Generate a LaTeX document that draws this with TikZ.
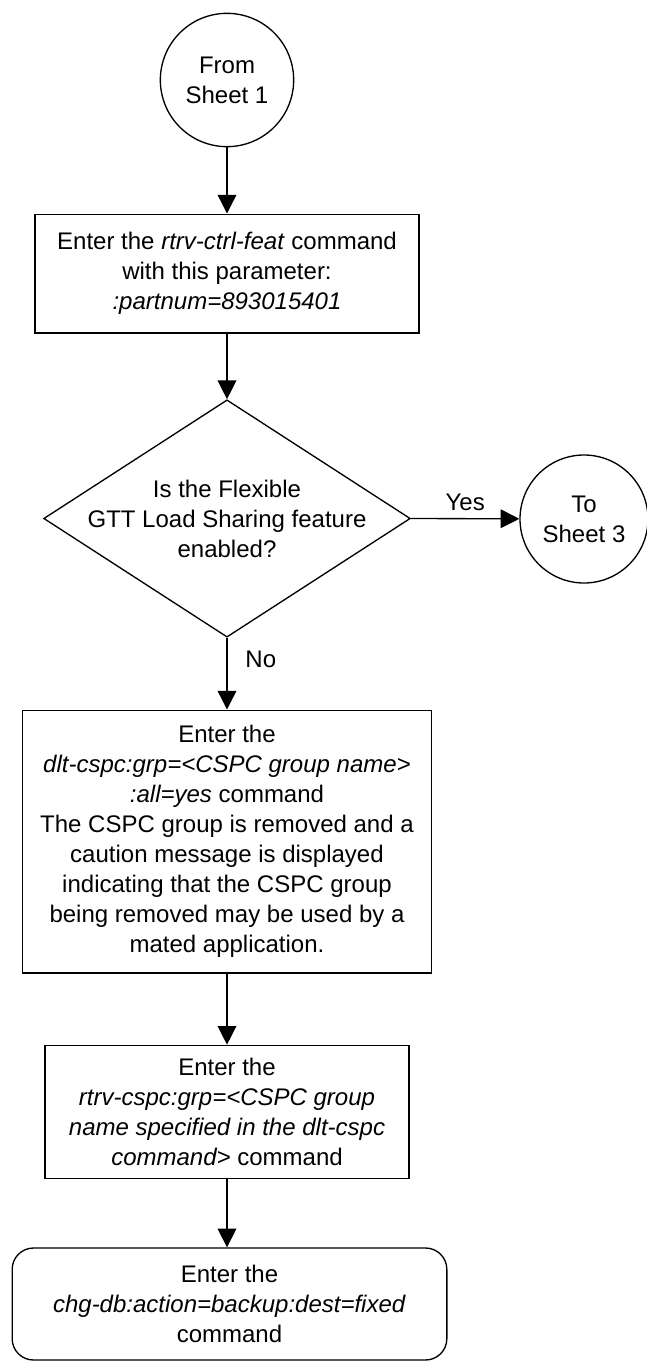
\documentclass[tikz,border=0pt]{standalone}
\usepackage{fontspec}
\setmainfont{Liberation Sans}
\usetikzlibrary{arrows.meta,shapes.geometric}
\begin{document}
\begin{tikzpicture}[x=0.75pt,y=-0.75pt,line width=1pt,
  every node/.style={font=\fontsize{18}{22.5}\selectfont,align=center},
  sheet/.style={draw,circle,minimum size=100pt,inner sep=0pt},
  cmdbox/.style={draw,rectangle,inner sep=0pt},
  decision/.style={draw,diamond,minimum width=275pt,minimum height=178pt,inner sep=0pt},
  flow/.style={-{Triangle[length=14pt,width=14pt]}}]
\useasboundingbox (0,0) rectangle (646,1363);

\node[sheet] (from) at (227,80) {From\\Sheet 1};

\node[cmdbox,minimum width=288pt,minimum height=89pt] (feat) at (227,273.5)
  {Enter the \textit{rtrv-ctrl-feat} command\\with this parameter:\\\textit{:partnum=893015401}};

\node[decision] (q) at (227,518.5) {};
\node (qtext) at (q) {Is the Flexible\\GTT Load Sharing feature\\enabled?};

\node[sheet,minimum size=96pt] (to) at (584,519) {To\\Sheet 3};

\node[cmdbox,minimum width=307pt,minimum height=197pt] (dlt) at (227,841.5)
  {Enter the\\\textit{dlt-cspc:grp=<CSPC group name>}\\\textit{:all=yes} command\\
   The CSPC group is removed and a\\caution message is displayed\\
   indicating that the CSPC group\\being removed may be used by a\\mated application.};

\node[cmdbox,minimum width=273pt,minimum height=100pt] (rtrv) at (227,1112)
  {Enter the\\\textit{rtrv-cspc:grp=<CSPC group}\\\textit{name specified in the dlt-cspc}\\\textit{command>} command};

\node[cmdbox,rounded corners=16pt,minimum width=326pt,minimum height=84pt] (chg) at (229.5,1304)
  {Enter the\\\textit{chg-db:action=backup:dest=fixed}\\command};

\draw[flow] (from) -- (feat);
\draw[flow] (feat) -- (q);
\draw[flow] (q.east) -- node[above=2pt] {Yes} (to);
\draw[flow] (q.south) -- node[right=10pt,pos=0.3] {No} (dlt);
\draw[flow] (dlt) -- (rtrv);
\draw[flow] (rtrv.south) -- (rtrv.south |- chg.north);
\end{tikzpicture}
\end{document}
